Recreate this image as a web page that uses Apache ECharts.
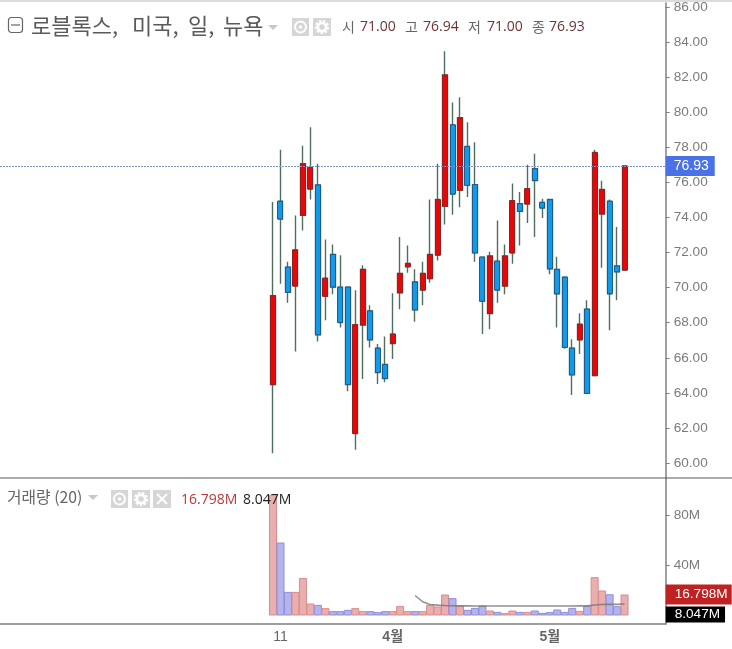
<!DOCTYPE html>
<html><head><meta charset="utf-8">
<style>html,body{margin:0;padding:0;background:#fff}#c{width:732px;height:649px}</style>
<script src="https://cdn.jsdelivr.net/npm/echarts@6/dist/echarts.min.js"></script>
</head><body><div id="c"></div>
<script>
const opens  = [64.47,74.92,71.17,70.09,74.12,75.62,75.85,69.51,71.89,70.03,70.03,61.68,67.87,68.67,66.55,65.62,66.81,69.71,71.19,70.32,69.86,70.51,71.85,74.64,79.28,75.55,78.05,75.87,71.74,68.52,71.51,70.09,71.98,74.79,74.77,76.78,74.86,75.02,71.04,70.60,66.55,67.02,68.77,64.98,74.20,74.92,71.23,71.00];
const closes = [69.54,73.91,69.73,72.15,77.06,76.85,67.31,70.53,70.03,68.01,64.47,67.89,71.04,67.02,65.16,64.82,67.35,70.81,71.38,68.73,70.81,71.89,75.02,82.12,75.34,79.69,75.83,71.98,69.22,71.80,69.86,71.80,74.96,74.35,75.64,76.11,74.54,71.07,69.65,66.59,65.03,67.91,63.97,77.70,75.59,69.65,70.90,76.93];
const lows   = [60.56,70.22,69.14,66.36,73.26,75.03,66.93,68.14,69.62,67.72,64.09,60.76,64.79,66.59,64.51,64.60,65.93,68.77,70.85,68.06,69.00,70.28,71.55,73.60,74.16,74.58,75.16,71.47,67.35,67.63,69.14,69.62,71.36,72.40,73.69,72.89,73.97,70.76,67.72,66.51,63.88,66.21,63.97,64.98,71.13,67.57,69.28,71.00];
const highs  = [74.88,77.86,71.47,74.11,78.09,79.14,77.06,72.74,72.46,71.84,70.03,69.85,71.27,68.99,66.78,67.21,69.68,72.89,72.40,71.04,71.47,75.02,77.06,83.48,80.56,80.85,79.43,78.29,71.74,72.04,73.82,72.46,75.93,75.45,77.01,77.63,75.06,75.02,71.76,70.60,67.06,68.54,69.28,77.86,76.10,75.02,73.46,76.94];
const volumes = [96.5,58.4,18.9,18.9,30.1,9.6,8.5,5.9,3.5,3.5,4.5,5.9,3.5,3.5,2.7,3.5,3.5,7.7,3.5,3.5,3.5,8.5,7.2,16.8,13.9,8.0,4.5,6.1,8.0,4.0,2.9,1.9,4.0,2.9,2.9,4.0,2.1,2.7,4.8,2.9,6.1,3.7,7.7,30.7,20.0,17.0,7.5,16.798];
const volumeMA = [16,11,8.8,8.3,8,7.8,7.7,7.7,7.6,7.6,7.6,7.6,7.6,7.6,7.6,7.6,7.6,7.6,7.6,7.6,7.6,7.6,7.7,7.7,8.4,8.8,9.0,8.9,9.2];
const priceTicks = [60,62,64,66,68,70,72,74,76,78,80,82,84,86];
const volumeTicks = [40,80];
const dateTicks = {37:'11',52:'{b|4월}',73:'{b|5월}',86:''};
const leadingSlots = 36, totalSlots = 89, maStart = 19;
const title = '로블록스, 미국, 일, 뉴욕';
const ohlcLabels = ['시','고','저','종'];
const ohlcValues = ['71.00','76.94','71.00','76.93'];
const lastClose = 76.93, volLast = 16.798, volOther = 8.047;
const volumeName = '거래량 (20)';

const cats = Array.from({length: totalSlots}, (_, i) => String(i));
const blanks = Array.from({length: leadingSlots}, () => ['-', '-', '-', '-']);
const slot = i => i + leadingSlots;
const isUp = i => closes[i] >= opens[i];
const wickData = blanks.concat(opens.map((o, i) => [o, closes[i], lows[i], highs[i]]));
const bodyData = blanks.concat(opens.map((o, i) => [o, closes[i], Math.min(o, closes[i]), Math.max(o, closes[i])]));
const volData = volumes.map((v, i) => ({value: [slot(i), v], itemStyle: isUp(i)
  ? {color: '#e9aeae', borderColor: '#d98c8c'} : {color: '#b3b3ee', borderColor: '#8f8fd8'}}));
const maData = volumeMA.map((v, i) => [slot(i + maStart), v]);

const GREY = '#7b7b7b', UI = '#d6d6d6';
const t = (x, y, text, font, fill, extra) => ({type: 'text', x, y, z: 50, style: Object.assign({text, font, fill, textVerticalAlign: 'middle'}, extra || {})});
const box = (x, y, w, h) => ({type: 'rect', z: 50, shape: {x, y, width: w, height: h}, style: {fill: UI}});
const eye = (cx, cy) => [{type: 'circle', z: 51, shape: {cx, cy, r: 5.5}, style: {fill: 'none', stroke: '#fff', lineWidth: 2}},
                         {type: 'circle', z: 51, shape: {cx, cy, r: 1.8}, style: {fill: '#fff'}}];
const gear = (cx, cy) => [{type: 'circle', z: 51, shape: {cx, cy, r: 5.6}, style: {fill: 'none', stroke: '#fff', lineWidth: 3, lineDash: [2.4, 1.4]}},
                          {type: 'circle', z: 51, shape: {cx, cy, r: 4}, style: {fill: 'none', stroke: '#fff', lineWidth: 2.5}}];
const tri = (x, y) => ({type: 'polygon', z: 50, shape: {points: [[x, y], [x + 10, y], [x + 5, y + 5]]}, style: {fill: '#c8c8c8'}});
const cjk = '"Noto Sans CJK KR"', num = '"Open Sans"';
const ohlcX = [342, 405, 468, 532], ohlcVX = [360, 423, 487, 549];
const titleX = [31, 132, 188, 223];
const graphics = [
  {type: 'rect', z: 60, shape: {x: 0, y: 0, width: 732, height: 2}, style: {fill: '#dcdcdc'}},
  {type: 'line', z: 40, shape: {x1: 0, y1: 478, x2: 732, y2: 478}, style: {stroke: '#5a5a5a', lineWidth: 1.2}},
  {type: 'rect', z: 50, shape: {x: 8.5, y: 17.5, width: 14, height: 15, r: 3}, style: {fill: '#fff', stroke: '#666', lineWidth: 1.2}},
  {type: 'line', z: 50, shape: {x1: 11, y1: 25, x2: 20, y2: 25}, style: {stroke: '#666', lineWidth: 1.2}},
  ...title.split(' ').map((s, i) => t(titleX[i], 26, s, '22px ' + cjk, '#5a5a5a')),
  tri(268, 25),
  box(292, 18, 17, 18), ...eye(300.5, 27),
  box(313, 18, 18, 18), ...gear(322, 27),
  ...ohlcLabels.map((s, i) => t(ohlcX[i], 27, s, '14px ' + cjk, '#666')),
  ...ohlcValues.map((s, i) => t(ohlcVX[i], 27, s, '14px ' + num, '#6b3434')),
  t(7, 497, volumeName, '15.8px ' + cjk, '#666'),
  tri(88, 495),
  box(111, 490, 17, 18), ...eye(119.5, 499),
  box(132, 490, 18, 18), ...gear(141, 499),
  box(153, 490, 18, 18),
  {type: 'line', z: 51, shape: {x1: 157, y1: 494, x2: 167, y2: 504}, style: {stroke: '#fff', lineWidth: 2}},
  {type: 'line', z: 51, shape: {x1: 167, y1: 494, x2: 157, y2: 504}, style: {stroke: '#fff', lineWidth: 2}},
  t(181, 500, volLast.toFixed(3) + 'M', '14px ' + num, '#b53a3a'),
  t(243, 500, volOther.toFixed(3) + 'M', '14px ' + num, '#222')
];

const axisLabelFont = {fontFamily: '"Liberation Sans"', fontSize: 13.6, color: GREY};
const option = {
  animation: false, backgroundColor: '#fff',
  grid: [
    {left: -2.55, width: 668.25, top: 0, height: 478},
    {left: -2.55, width: 668.25, top: 478, height: 146}
  ],
  xAxis: [
    {type: 'category', gridIndex: 0, data: cats, show: false},
    {type: 'category', gridIndex: 1, data: cats, position: 'bottom',
      axisLine: {onZero: false, lineStyle: {color: '#808080', width: 1.5}},
      axisTick: {length: 4, alignWithLabel: true, interval: (i) => i in dateTicks, lineStyle: {color: '#808080'}},
      splitLine: {show: false},
      axisLabel: {interval: (i) => i in dateTicks, formatter: (v) => dateTicks[v] || '', margin: 6, hideOverlap: false,
        fontFamily: '"Liberation Sans","Noto Sans CJK KR"', fontSize: 14, color: '#666',
        rich: {b: {fontFamily: '"Liberation Sans","Noto Sans CJK KR"', fontSize: 14, fontWeight: 'bold', color: '#666'}}}}
  ],
  yAxis: [
    {type: 'value', gridIndex: 0, position: 'right', min: 59.144, max: 86.227, scale: true,
      axisLine: {show: true, lineStyle: {color: '#808080', width: 1.5}},
      axisTick: {show: true, length: 4, customValues: priceTicks, lineStyle: {color: '#808080'}},
      splitLine: {show: false},
      axisLabel: Object.assign({customValues: priceTicks, margin: 8, formatter: (v) => v.toFixed(2)}, axisLabelFont)},
    {type: 'value', gridIndex: 1, position: 'right', min: -6.8, max: 110, scale: true,
      axisLine: {show: true, onZero: false, lineStyle: {color: '#808080', width: 1.5}},
      axisTick: {show: true, length: 4, customValues: volumeTicks, lineStyle: {color: '#808080'}},
      splitLine: {show: false},
      axisLabel: Object.assign({customValues: volumeTicks, margin: 8, formatter: (v) => v + 'M'}, axisLabelFont)}
  ],
  series: [
    {type: 'candlestick', name: 'wick', xAxisIndex: 0, yAxisIndex: 0, barWidth: 5, data: wickData,
      itemStyle: {color: '#4f6e60', color0: '#4f6e60', borderColor: '#4f6e60', borderColor0: '#4f6e60', borderWidth: 1.4},
      markLine: {silent: true, symbol: 'none', animation: false, data: [{yAxis: lastClose}],
        lineStyle: {color: '#7f93c9', type: [2, 1], width: 1},
        label: {position: 'end', distance: 0, formatter: () => lastClose.toFixed(2), color: '#fff', backgroundColor: '#4a72e6',
          padding: [3, 6, 3, 8], fontFamily: '"Liberation Sans"', fontSize: 14}}},
    {type: 'candlestick', name: 'body', xAxisIndex: 0, yAxisIndex: 0, barWidth: 5.5, data: bodyData, z: 3,
      itemStyle: {color: '#ea0606', color0: '#1199ea', borderColor: '#8c2323', borderColor0: '#1d5c8a', borderWidth: 1}},
    {type: 'bar', name: 'volume', xAxisIndex: 1, yAxisIndex: 1, barWidth: 8, data: volData,
      itemStyle: {borderWidth: 1},
      markLine: {silent: true, symbol: 'none', animation: false, lineStyle: {width: 0},
        data: [
          {yAxis: volLast, label: {position: 'end', distance: 0, formatter: () => volLast.toFixed(3) + 'M', color: '#fff', backgroundColor: '#c02222',
            padding: [3, 0, 3, 9], width: 57, fontFamily: '"Liberation Sans"', fontSize: 13.6}},
          {yAxis: volOther, label: {position: 'end', distance: 0, offset: [0, 9], formatter: () => volOther.toFixed(3) + 'M', color: '#fff', backgroundColor: '#000',
            padding: [1, 5, 1, 9], fontFamily: '"Liberation Sans"', fontSize: 13.6}}
        ]}},
    {type: 'line', name: 'ma', xAxisIndex: 1, yAxisIndex: 1, data: maData, showSymbol: false, z: 5,
      lineStyle: {color: '#7d7272', width: 1.6, opacity: 0.8}}
  ],
  graphic: graphics
};
echarts.init(document.getElementById('c')).setOption(option);
</script></body></html>
